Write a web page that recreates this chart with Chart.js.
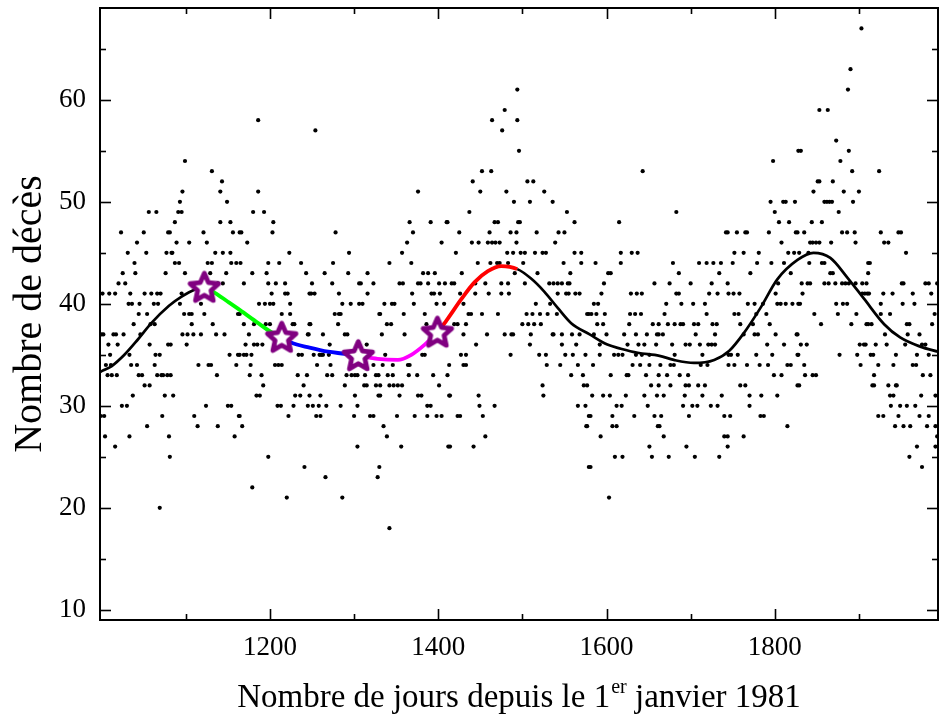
<!DOCTYPE html>
<html><head><meta charset="utf-8">
<script src="https://cdn.jsdelivr.net/npm/chart.js@4.4.1/dist/chart.umd.min.js"></script>
<style>html,body{margin:0;padding:0;background:#fff}canvas{display:block}</style>
</head><body>
<canvas id="c" width="940" height="719"></canvas>
<script>
// ---- axis ticks ----
const xMajorTicks = [1200, 1400, 1600, 1800];
const xMinorTicks = [1100, 1300, 1500, 1700, 1900];
const yMajorTicks = [10, 20, 30, 40, 50, 60];
const yMinorTicks = [15, 25, 35, 45, 55, 65];

// ---- daily deaths (day since 1 Jan 1981, deaths) ----
const obsPart1 = [
[1056,49],[1065,49],[1023,47],[1050,47],[1079,47],[1042,46],[1031,45],[1053,45],[1077,45],[1039,44],[1025,43],[1040,43],[1076,43],[1020,42],[1028,42],
[1001,41],[1009,41],[1016,41],[1034,41],[1051,41],[1059,41],[1066,41],[1070,41],[1032,40],[1036,40],[1045,40],[1062,40],[1067,40],[1044,39],[1054,39],
[1038,38],[1058,38],[1063,38],[1000,37],[1002,37],[1014,37],[1017,37],[1026,37],[1046,37],[1008,36],[1019,36],[1057,36],[1079,36],
[1010,35],[1033,35],[1064,35],[1069,35],[1005,34],[1011,34],[1035,34],[1042,34],[1063,34],
[1007,33],[1012,33],[1018,33],[1044,33],[1048,33],[1066,33],[1071,33],[1073,33],[1078,33],[1051,32],[1057,32],[1037,31],[1075,31],[1024,30],[1030,30],
[999,29],[1003,29],[1072,29],[1054,28],[1004,27],[1033,27],[1080,27],[1016,26],[1069,20],
[1099,54],[1131,53],[1143,52],[1096,51],[1141,51],[1093,50],[1149,50],[1091,49],[1095,49],[1087,48],[1141,48],[1153,48],[1081,47],[1121,47],[1156,47],[1164,47],
[1089,46],[1104,46],[1125,46],[1083,45],[1084,45],[1135,45],[1144,45],[1153,45],[1087,44],[1092,44],[1126,44],[1131,44],[1154,44],[1160,44],
[1099,43],[1129,43],[1148,43],[1138,42],[1144,42],[1095,41],[1093,40],[1118,40],[1098,39],[1104,39],[1107,39],[1122,39],[1162,39],[1107,38],[1132,38],
[1096,37],[1102,37],[1109,37],[1118,37],[1136,37],[1146,37],[1082,36],[1101,36],[1152,35],[1162,35],[1115,34],[1127,34],[1130,34],[1160,34],[1082,33],[1137,33],
[1085,31],[1124,30],[1150,30],[1154,30],[1110,29],[1163,29],[1114,28],[1138,28],[1158,27],[1081,25],
[1186,58],[1186,51],[1180,49],[1193,49],[1204,48],[1166,47],[1203,47],[1173,46],[1223,45],[1165,44],[1198,44],[1211,44],[1237,44],[1179,43],[1196,43],[1243,43],
[1169,42],[1198,42],[1207,42],[1218,42],[1202,41],[1218,41],[1221,41],[1247,41],[1187,40],[1194,40],[1200,40],[1204,40],[1224,40],[1164,39],[1214,39],[1224,39],
[1169,38],[1181,38],[1195,38],[1200,38],[1227,38],[1229,38],[1247,38],[1175,37],[1245,37],[1171,36],[1181,36],[1185,36],[1191,36],
[1164,35],[1169,35],[1172,35],[1178,35],[1234,35],[1238,35],[1177,34],[1206,34],[1210,34],[1214,34],[1176,33],[1190,33],[1233,33],[1244,33],[1192,32],[1240,32],
[1184,31],[1188,31],[1230,31],[1236,31],[1209,30],[1213,30],[1228,30],[1245,30],[1164,29],[1222,29],[1167,28],[1198,25],[1241,24],[1179,22],[1220,21]
];
const obsPart2 = [
[1254,57],[1278,47],[1294,45],[1275,44],[1265,43],[1293,43],[1316,43],[1250,42],[1274,42],[1306,42],[1308,42],[1323,42],[1249,41],[1253,41],[1282,41],[1316,41],
[1286,40],[1296,40],[1306,40],[1310,40],[1277,39],[1282,39],[1284,39],[1330,39],[1248,38],[1281,38],[1246,37],[1263,37],[1289,37],[1292,37],[1271,36],[1315,36],
[1252,35],[1259,35],[1261,35],[1263,35],[1270,35],[1256,34],[1272,34],[1323,34],[1268,33],[1274,33],[1291,33],[1297,33],[1301,33],[1304,33],[1313,33],[1326,33],[1329,33],
[1289,32],[1312,32],[1315,32],[1326,32],[1247,31],[1260,31],[1301,31],[1329,31],[1251,30],[1258,30],[1267,30],[1284,30],[1304,30],[1255,29],[1260,29],[1300,29],[1319,29],[1323,29],
[1304,26],[1266,23],[1328,23],[1286,21],
[1376,51],[1366,48],[1391,48],[1410,48],[1370,47],[1363,46],[1404,46],[1357,45],[1342,44],[1368,44],[1382,43],[1388,43],[1396,43],
[1354,42],[1358,42],[1376,42],[1379,42],[1388,42],[1401,42],[1408,42],[1369,41],[1392,41],[1395,41],[1402,41],[1336,40],[1345,40],[1348,40],[1371,40],[1398,40],[1407,40],
[1331,39],[1359,39],[1384,39],[1339,38],[1344,38],[1386,38],[1333,37],[1360,37],[1337,35],[1381,35],[1384,35],[1334,34],[1346,34],[1364,34],[1366,34],
[1340,33],[1346,33],[1365,33],[1375,33],[1394,33],[1411,33],[1331,32],[1342,32],[1347,32],[1352,32],[1357,32],[1401,32],[1331,31],[1354,31],[1376,31],[1380,31],[1413,31],
[1387,30],[1391,30],[1351,29],[1372,29],[1387,29],[1398,29],[1404,29],[1335,28],[1339,27],[1356,26],[1412,26],[1330,24],[1342,18],
[1494,61],[1479,59],[1464,58],[1494,58],[1476,57],[1496,55],[1452,53],[1463,53],[1441,52],[1450,51],[1481,51],[1490,50],[1437,49],
[1411,48],[1467,48],[1471,48],[1495,48],[1425,47],[1461,47],[1486,47],[1493,47],[1440,46],[1448,46],[1459,46],[1464,46],[1468,46],[1473,46],[1493,46],
[1421,45],[1482,45],[1489,45],[1447,44],[1462,44],[1470,44],[1473,44],[1483,44],[1428,43],[1491,43],[1416,42],[1419,42],[1444,42],[1456,42],[1475,42],[1483,42],
[1426,41],[1444,41],[1460,41],[1475,41],[1484,41],[1430,40],[1436,39],[1439,39],[1452,39],[1471,39],[1419,38],[1423,38],[1433,38],
[1430,37],[1458,37],[1479,37],[1487,37],[1489,37],[1445,36],[1427,35],[1433,35],[1486,35],[1413,34],[1430,34],[1433,34],
[1414,31],[1448,31],[1449,30],[1467,30],[1423,29],[1426,29],[1453,29],[1456,27],[1414,26],[1442,26]
];
const obsPart3 = [
[1506,52],[1513,52],[1526,51],[1509,50],[1536,50],[1553,49],[1497,48],[1562,48],[1517,47],[1543,47],[1550,47],[1539,46],
[1498,45],[1503,45],[1515,45],[1524,45],[1528,45],[1562,45],[1570,45],[1501,44],[1549,44],[1570,44],[1518,43],[1557,43],
[1503,42],[1532,42],[1537,42],[1542,42],[1547,42],[1554,42],[1556,42],[1542,41],[1552,41],[1555,41],[1563,41],[1568,41],[1516,40],[1533,40],
[1505,39],[1512,39],[1521,39],[1530,39],[1541,39],[1577,39],[1500,38],[1507,38],[1514,38],[1522,38],[1510,37],[1536,37],[1537,37],[1547,37],[1559,37],[1568,37],
[1509,36],[1547,36],[1564,36],[1520,35],[1528,35],[1551,35],[1560,35],[1575,35],[1529,34],[1545,34],[1566,34],[1558,33],[1572,33],[1524,32],[1573,32],[1577,32],
[1525,31],[1566,30],[1575,30],[1579,29],[1576,28],[1579,24],
[1643,53],[1615,48],[1617,45],[1630,45],[1637,45],[1587,44],[1617,44],[1602,43],[1605,43],[1597,42],[1657,42],[1594,41],[1629,41],[1636,41],[1642,41],[1585,40],[1590,40],
[1579,39],[1582,39],[1588,39],[1598,39],[1628,39],[1634,39],[1641,39],[1589,38],[1596,38],[1627,38],[1655,38],[1585,37],[1600,37],[1621,37],[1635,37],[1648,37],[1660,37],
[1592,36],[1625,36],[1638,36],[1645,36],[1659,36],[1592,35],[1609,35],[1614,35],[1619,35],[1635,35],[1642,35],[1651,35],[1584,34],[1631,34],[1640,34],[1651,34],
[1605,33],[1624,33],[1626,33],[1647,33],[1662,33],[1653,32],[1583,31],[1596,31],[1604,31],[1623,31],[1645,31],[1660,31],[1612,30],[1618,30],[1649,30],
[1581,29],[1607,29],[1633,29],[1657,29],[1577,28],[1607,28],[1612,28],[1661,28],[1593,27],[1651,26],[1610,25],[1619,25],[1654,25],[1581,24],[1603,21],
[1683,49],[1742,47],[1679,44],[1710,44],[1719,44],[1727,44],[1736,44],[1686,43],[1734,43],[1675,42],[1700,42],[1725,42],[1744,42],[1683,41],[1686,41],[1722,41],[1732,41],
[1671,40],[1689,40],[1703,40],[1717,40],[1669,39],[1719,39],[1662,38],[1673,38],[1681,38],[1688,38],[1691,38],[1704,38],[1709,38],[1726,38],[1731,38],
[1662,37],[1667,37],[1706,37],[1729,37],[1678,36],[1694,36],[1699,36],[1711,36],[1721,36],[1725,36],[1729,36],[1681,35],[1714,35],[1745,35],
[1664,34],[1676,34],[1680,34],[1712,34],[1720,34],[1672,33],[1687,33],[1697,33],[1662,32],[1676,32],[1694,32],[1698,32],[1709,32],[1717,32],
[1668,31],[1693,31],[1714,31],[1737,31],[1691,30],[1702,30],[1708,30],[1724,30],[1732,30],[1665,29],[1698,29],[1740,29],[1663,28],[1668,27],[1740,27],[1744,27],[1695,26],[1674,25],[1705,25],[1734,25]
];
const obsPart4 = [
[1828,55],[1798,54],[1795,50],[1810,50],[1813,50],[1824,50],[1800,49],[1805,48],[1817,48],[1744,47],[1755,47],[1765,47],[1767,47],[1793,47],[1825,47],[1808,46],
[1752,45],[1763,45],[1781,45],[1816,45],[1823,45],[1750,44],[1779,44],[1796,44],[1811,44],[1771,43],[1819,43],[1804,42],[1745,41],[1751,41],[1758,41],[1801,41],
[1768,40],[1776,40],[1786,40],[1803,40],[1807,40],[1813,40],[1821,40],[1828,40],[1752,39],[1757,39],[1778,39],[1790,39],[1759,38],[1774,38],[1794,38],
[1763,37],[1776,37],[1780,37],[1801,37],[1827,37],[1791,36],[1811,36],[1748,35],[1756,35],[1778,35],[1797,35],[1827,35],
[1745,34],[1752,34],[1767,34],[1782,34],[1792,34],[1815,34],[1819,34],[1799,33],[1808,33],[1759,32],[1765,32],[1827,32],[1770,31],[1784,31],[1803,31],[1770,30],
[1747,29],[1783,29],[1787,29],[1815,28],[1763,27],[1744,26],
[1903,67],[1890,63],[1887,61],[1853,59],[1863,59],[1873,56],[1831,55],[1888,55],[1878,54],[1892,53],[1851,52],[1853,52],[1869,52],[1846,51],[1882,51],[1900,51],
[1859,50],[1862,50],[1865,50],[1868,50],[1893,50],[1876,49],[1844,48],[1856,48],[1827,47],[1835,47],[1880,47],[1886,47],[1895,47],
[1842,46],[1845,46],[1849,46],[1853,46],[1867,46],[1896,46],[1829,45],[1840,45],[1841,44],[1856,44],[1859,44],[1911,44],[1866,43],[1869,43],
[1832,42],[1839,42],[1842,42],[1859,42],[1864,42],[1872,42],[1880,42],[1884,42],[1888,42],[1896,42],[1904,42],[1909,42],[1833,41],[1904,41],[1907,41],[1910,41],
[1830,40],[1873,40],[1881,40],[1886,40],[1847,39],[1875,39],[1897,39],[1855,38],[1891,38],[1909,38],[1826,37],[1831,36],[1838,36],[1901,36],[1906,36],[1908,36],
[1828,35],[1877,35],[1898,35],[1835,34],[1902,34],[1836,33],[1845,33],[1849,33],[1829,32],
[1924,53],[1926,47],[1947,47],[1950,47],[1930,46],[1935,46],[1956,45],[1913,44],[1911,43],[1951,42],[1953,42],[1979,42],[1983,42],[1993,42],
[1912,41],[1929,41],[1940,41],[1964,41],[1986,41],[1926,40],[1952,40],[1966,40],[1926,39],[1937,39],[1990,39],[1911,38],[1915,38],[1957,38],[1960,38],[1987,38],
[1931,37],[1958,37],[1972,37],[1920,36],[1933,36],[1955,36],[1975,36],[1979,36],[1914,35],[1917,35],[1944,35],[1969,35],[1983,35],
[1923,34],[1941,34],[1964,34],[1968,34],[1918,33],[1976,33],[1985,33],[1916,32],[1918,32],[1935,32],[1944,32],[1945,32],
[1937,31],[1941,31],[1974,31],[1991,31],[1938,30],[1949,30],[1957,30],[1967,30],[1923,29],[1929,29],[1947,29],[1972,29],[1983,29],
[1943,28],[1953,28],[1961,28],[1981,28],[1991,28],[1993,27],[1969,26],[1991,26],[1960,25],[1975,24]
];

// ---- smoothed curve ----
const fitDays = [998,1000,1012,1027,1043,1059,1080,1095,1111,1122,1134,1150,1164,1186,1202,1214,1225,1247,1269,1289,1305,1328,1352,1368,1384,1399,1411,1427,1443,1459,1475,1494,1510,1526,1542,1558,1580,1601,1617,1637,1663,1680,1704,1728,1746,1763,1783,1803,1827,1846,1866,1886,1906,1930,1949,1973,1994];
const fitValues = [33.3,33.4,33.9,35.0,36.5,38.1,39.8,40.7,41.4,41.6,41.1,40.2,39.4,38.1,37.2,36.7,36.2,35.7,35.3,35.1,34.9,34.6,34.5,35.0,36.0,37.2,38.5,40.4,42.1,43.2,43.7,43.4,42.5,41.2,39.6,38.1,37.0,36.0,35.6,35.2,34.9,34.5,34.2,34.5,35.4,37.1,39.6,42.4,44.3,45.0,44.5,42.6,40.5,38.0,36.7,35.8,35.3];

// ---- highlighted section and star markers ----
const sectionBounds = [1122, 1214, 1305, 1399, 1494];
const sectionColors = ['#00ff00', '#0000ff', '#ff00ff', '#ff0000'];
const starDays = [1122, 1214, 1305, 1399];
const starValues = [41.6, 36.7, 34.9, 37.2];

const FONT = '"Liberation Serif", "Times New Roman", serif';

function makeStar() {
  const c = document.createElement('canvas');
  c.width = 40; c.height = 40;
  const g = c.getContext('2d');
  const R = 15, r = 7, cx = 20, cy = 20.8;
  g.beginPath();
  for (let i = 0; i < 10; i++) {
    const a = -Math.PI / 2 + i * Math.PI / 5;
    const rad = i % 2 ? r : R;
    g.lineTo(cx + rad * Math.cos(a), cy + rad * Math.sin(a));
  }
  g.closePath();
  g.fillStyle = '#ffffff'; g.fill();
  g.lineJoin = 'round'; g.lineWidth = 4.8; g.strokeStyle = '#800080'; g.stroke();
  return c;
}

function sectionIndex(x0) {
  for (let i = 0; i < sectionColors.length; i++) {
    if (x0 >= sectionBounds[i] && x0 < sectionBounds[i + 1]) return i;
  }
  return -1;
}

const frameTicks = {
  id: 'frameTicks',
  afterDatasetsDraw(chart) {
    const { ctx, chartArea: a, scales: { x, y } } = chart;
    ctx.save();
    ctx.strokeStyle = '#000';
    ctx.lineWidth = 1.6;
    const seg = (x1, y1, x2, y2) => { ctx.beginPath(); ctx.moveTo(x1, y1); ctx.lineTo(x2, y2); ctx.stroke(); };
    const xt = (v, len) => { const p = Math.round(x.getPixelForValue(v)) + 0.5; seg(p, a.bottom, p, a.bottom - len); seg(p, a.top, p, a.top + len); };
    const yt = (v, len) => { const p = Math.round(y.getPixelForValue(v)) + 0.5; seg(a.left, p, a.left + len, p); seg(a.right, p, a.right - len, p); };
    xMajorTicks.forEach(v => xt(v, 11));
    xMinorTicks.forEach(v => xt(v, 6));
    yMajorTicks.forEach(v => yt(v, 11));
    yMinorTicks.forEach(v => yt(v, 6));
    ctx.lineWidth = 2;
    ctx.strokeRect(a.left, a.top, a.right - a.left, a.bottom - a.top);
    ctx.restore();
  }
};

const xTitle = {
  id: 'xTitle',
  afterDraw(chart) {
    const { ctx, chartArea: a } = chart;
    const t1 = 'Nombre de jours depuis le 1', t2 = 'er', t3 = ' janvier 1981';
    ctx.save();
    ctx.fillStyle = '#000';
    ctx.textBaseline = 'alphabetic';
    ctx.font = '33px ' + FONT;
    const w1 = ctx.measureText(t1).width, w3 = ctx.measureText(t3).width;
    ctx.font = '20px ' + FONT;
    const w2 = ctx.measureText(t2).width;
    let x0 = (a.left + a.right) / 2 - (w1 + w2 + w3 + 1) / 2;
    const base = 707;
    ctx.font = '33px ' + FONT; ctx.fillText(t1, x0, base); x0 += w1;
    ctx.font = '20px ' + FONT; ctx.fillText(t2, x0 + 1, base - 14); x0 += w2 + 1;
    ctx.font = '33px ' + FONT; ctx.fillText(t3, x0, base);
    ctx.restore();
  }
};

const noPad = s => { s.paddingTop = 0; s.paddingBottom = 0; s.paddingLeft = 0; s.paddingRight = 0; };

const obsData = [...obsPart1, ...obsPart2, ...obsPart3, ...obsPart4].map(([d, v]) => ({ x: d, y: v }));
const fitData = fitDays.map((d, i) => ({ x: d, y: fitValues[i] }));
const starData = starDays.map((d, i) => ({ x: d, y: starValues[i] }));

new Chart(document.getElementById('c'), {
  type: 'scatter',
  data: {
    datasets: [
      { label: 'stars', data: starData, order: 0, pointStyle: makeStar(), pointRadius: 15, showLine: false },
      { label: 'fit', data: fitData, order: 1, showLine: true, pointRadius: 0, borderColor: '#000', borderWidth: 2.7,
        cubicInterpolationMode: 'monotone',
        segment: {
          borderColor: c => { const i = sectionIndex(c.p0.parsed.x); return i < 0 ? '#000' : sectionColors[i]; },
          borderWidth: c => sectionIndex(c.p0.parsed.x) < 0 ? 2.7 : 3.8
        } },
      { label: 'deaths', data: obsData, order: 2, pointRadius: 2.1, backgroundColor: '#000', borderWidth: 0, showLine: false }
    ]
  },
  options: {
    responsive: false, animation: false, devicePixelRatio: 1,
    layout: { autoPadding: false, padding: { top: 8, right: 2, left: 0, bottom: 0 } },
    plugins: { legend: { display: false }, tooltip: { enabled: false } },
    scales: {
      x: {
        type: 'linear', min: 998, max: 1994,
        afterBuildTicks: s => { s.ticks = xMajorTicks.map(v => ({ value: v })); },
        afterFit: s => { s.height = 99; noPad(s); },
        grid: { display: false, drawTicks: false },
        border: { display: false },
        ticks: { color: '#000', font: { family: FONT, size: 27 }, padding: 12, maxRotation: 0, callback: v => String(v) }
      },
      y: {
        type: 'linear', min: 9, max: 69,
        afterBuildTicks: s => { s.ticks = yMajorTicks.map(v => ({ value: v })); },
        afterFit: s => { s.width = 100; noPad(s); },
        grid: { display: false, drawTicks: false },
        border: { display: false },
        ticks: { color: '#000', font: { family: FONT, size: 27 }, padding: 14, callback: v => String(v) },
        title: { display: true, text: 'Nombre de décès', color: '#000', font: { family: FONT, size: 40 }, padding: { top: 6, bottom: 0 } }
      }
    }
  },
  plugins: [frameTicks, xTitle]
});
</script>
</body></html>
